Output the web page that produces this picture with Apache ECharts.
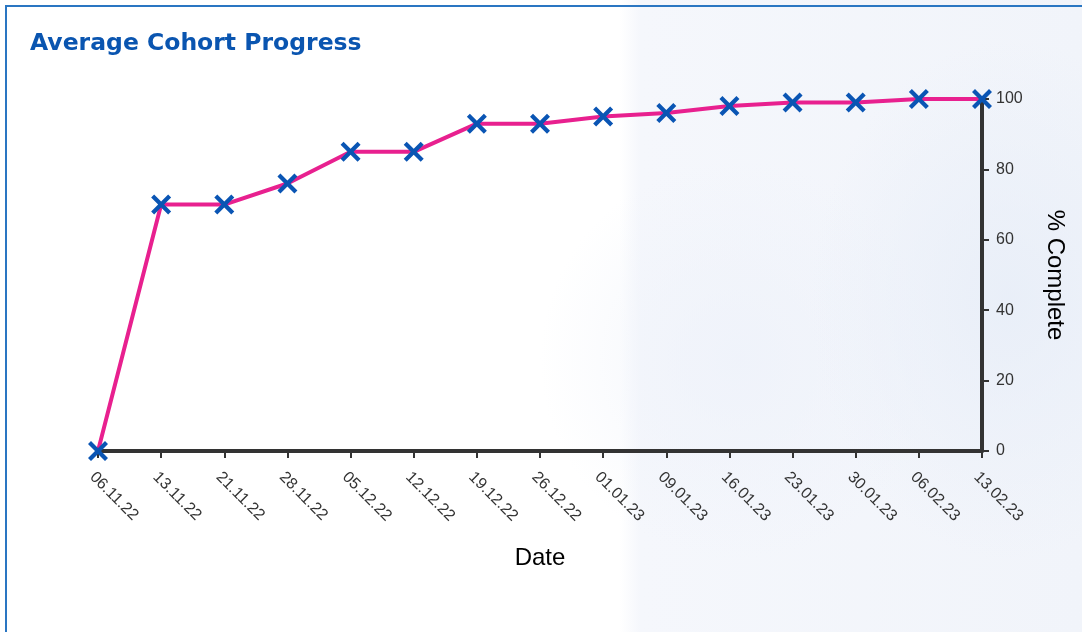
<!DOCTYPE html>
<html>
<head>
<meta charset="utf-8">
<script src="https://cdn.jsdelivr.net/npm/echarts@6/dist/echarts.min.js"></script>
<style>
html,body{margin:0;padding:0;width:1082px;height:632px;overflow:hidden;background:#fff;}
#bg{position:absolute;left:0;top:0;width:1082px;height:632px;
background:
 radial-gradient(ellipse 200px 260px at 1010px 300px, rgba(232,238,248,0.9), rgba(255,255,255,0) 100%),
 radial-gradient(ellipse 200px 200px at 740px 360px, rgba(238,242,250,0.8), rgba(255,255,255,0) 100%),
 linear-gradient(90deg, #ffffff 0px, #ffffff 620px, #f5f7fc 640px, #f1f4fa 1082px);}
#frame{position:absolute;left:5px;top:5px;width:1077px;height:627px;border-left:2px solid #2a76c2;border-top:2px solid #2a76c2;box-sizing:border-box;}
#chart{position:absolute;left:0;top:0;width:1082px;height:632px;}
</style>
</head>
<body>
<div id="bg"></div>
<div id="frame"></div>
<div id="chart"></div>
<script>
const categories = ['06.11.22','13.11.22','21.11.22','28.11.22','05.12.22','12.12.22','19.12.22','26.12.22','01.01.23','09.01.23','16.01.23','23.01.23','30.01.23','06.02.23','13.02.23'];
const progress = [0, 70, 70, 76, 85, 85, 93, 93, 95, 96, 98, 99, 99, 100, 100];
const yTicks = [0, 20, 40, 60, 80, 100];

const labelFont = '"Liberation Sans", Arial, sans-serif';
const chart = echarts.init(document.getElementById('chart'), null, {renderer:'canvas'});
chart.setOption({
  backgroundColor: 'transparent',
  animation: false,
  title: {
    text: 'Average Cohort Progress',
    left: 25, top: 27,
    textStyle: {color:'#0a55b0', fontSize:23.5, fontWeight:'bold', fontFamily:'"DejaVu Sans", sans-serif'}
  },
  grid: {left: 98, right: 100, top: 99, bottom: 181},
  xAxis: {
    type: 'category',
    data: categories,
    boundaryGap: false,
    name: 'Date',
    nameLocation: 'middle',
    nameGap: 95,
    nameTextStyle: {color:'#000', fontSize:24, fontFamily:labelFont},
    axisLine: {lineStyle:{color:'#333', width:4}},
    axisTick: {show:true, alignWithLabel:true, length:7, lineStyle:{color:'#333', width:2}},
    axisLabel: {rotate:-45, color:'#333', fontSize:16, fontFamily:labelFont, margin:18, interval:0, verticalAlign:'top'},
    splitLine: {show:false}
  },
  yAxis: {
    type: 'value',
    position: 'right',
    min: 0, max: 100, interval: 20,
    name: '% Complete',
    nameLocation: 'middle',
    nameRotate: -90,
    nameGap: 61,
    nameTextStyle: {color:'#000', fontSize:24, fontFamily:labelFont},
    axisLine: {show:true, lineStyle:{color:'#333', width:4}},
    axisTick: {show:true, length:7, lineStyle:{color:'#333', width:2}},
    axisLabel: {color:'#333', fontSize:16, fontFamily:labelFont, margin:14,
      formatter: v => yTicks.includes(v) ? String(v) : ''},
    splitLine: {show:false}
  },
  series: [{
    type: 'line',
    data: progress,
    lineStyle: {color:'#e8208f', width:4},
    itemStyle: {color:'#0a55b4'},
    symbol: 'path://M3,0 L10,7 L17,0 L20,3 L13,10 L20,17 L17,20 L10,13 L3,20 L0,17 L7,10 L0,3 Z',
    symbolSize: 20,
    showSymbol: true,
    z: 3
  }]
});
</script>
</body>
</html>
